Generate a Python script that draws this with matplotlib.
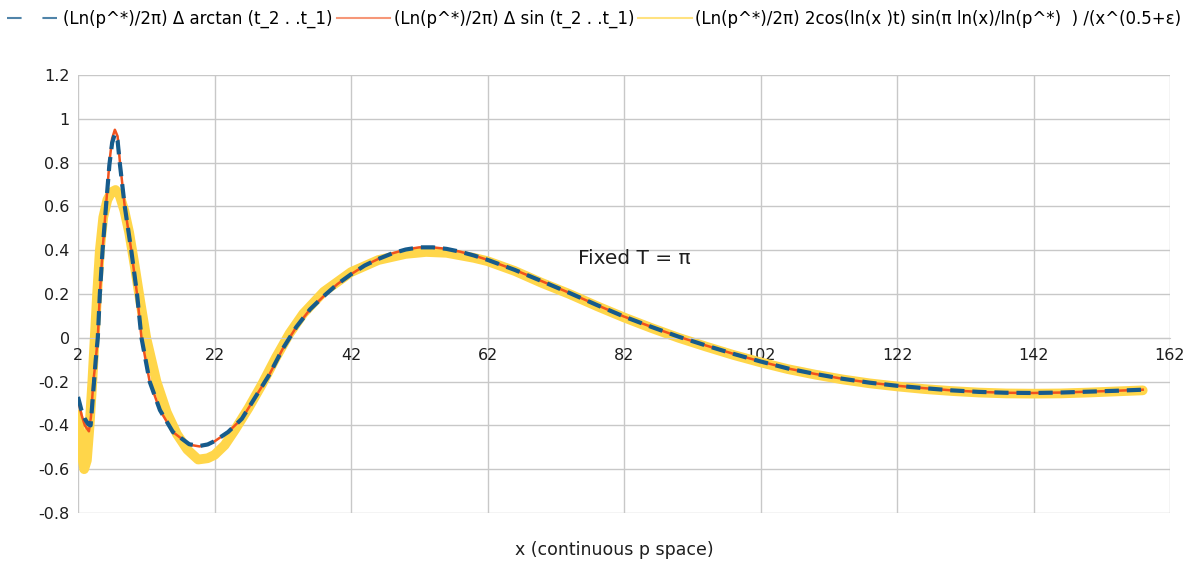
import numpy as np
import matplotlib.pyplot as plt
from matplotlib.lines import Line2D

# values
x_arctan = [2, 2.5, 3.0, 3.5, 3.85, 4.25, 4.6, 4.9, 5.2, 5.6, 6.1, 6.6, 7.0, 7.4, 7.8, 8.15,
            8.85, 9.8, 10.65, 11.3, 12.5, 14, 15.9, 18.3, 19.8, 21, 22, 24, 26, 28, 30, 32,
            34, 36, 38, 40, 42, 44, 46, 48, 50, 52, 54, 56, 58, 60, 62, 66, 70, 74, 78, 82,
            86, 90, 94, 98, 102, 106, 110, 114, 118, 122, 126, 130, 134, 138, 142, 146, 150,
            154, 158]
y_arctan = [-0.27, -0.33, -0.37, -0.395, -0.40, -0.24, -0.10, 0.0, 0.2, 0.4, 0.6, 0.79, 0.89,
            0.93, 0.9, 0.79, 0.6, 0.4, 0.2, 0.0, -0.2, -0.33, -0.43, -0.486, -0.494, -0.487,
            -0.472, -0.43, -0.37, -0.27, -0.17, -0.05, 0.05, 0.13, 0.19, 0.245, 0.29, 0.33,
            0.36, 0.385, 0.403, 0.413, 0.413, 0.406, 0.393, 0.376, 0.356, 0.31, 0.258, 0.205,
            0.15, 0.097, 0.05, 0.005, -0.035, -0.073, -0.108, -0.14, -0.165, -0.187, -0.205,
            -0.219, -0.23, -0.24, -0.247, -0.251, -0.252, -0.25, -0.246, -0.242, -0.237]

x_sin = [2, 2.5, 3.0, 3.6, 3.9, 4.25, 4.6, 4.9, 5.2, 5.6, 6.1, 6.6, 7.0, 7.4, 7.8, 8.15,
         8.85, 9.8, 10.65, 11.3, 12.5, 14, 15.9, 18.3, 19.8, 21, 22, 24, 26, 28, 30, 32,
         34, 36, 38, 40, 42, 44, 46, 48, 50, 52, 54, 56, 58, 60, 62, 66, 70, 74, 78, 82,
         86, 90, 94, 98, 102, 106, 110, 114, 118, 122, 126, 130, 134, 138, 142, 146, 150,
         154, 158]
y_sin = [-0.28, -0.35, -0.40, -0.427, -0.36, -0.2, -0.1, 0.0, 0.2, 0.4, 0.6, 0.8, 0.91,
         0.95, 0.92, 0.8, 0.6, 0.4, 0.2, 0.0, -0.2, -0.33, -0.43, -0.488, -0.496, -0.488,
         -0.473, -0.43, -0.37, -0.27, -0.17, -0.05, 0.05, 0.13, 0.19, 0.245, 0.29, 0.33,
         0.36, 0.385, 0.403, 0.413, 0.413, 0.406, 0.393, 0.376, 0.356, 0.31, 0.258, 0.205,
         0.15, 0.097, 0.05, 0.005, -0.035, -0.073, -0.108, -0.14, -0.165, -0.187, -0.205,
         -0.219, -0.23, -0.24, -0.247, -0.251, -0.252, -0.25, -0.246, -0.242, -0.237]

x_cos = [2, 2.5, 2.9, 3.3, 3.7, 4.1, 4.45, 4.8, 5.2, 5.7, 6.3, 6.9, 7.5, 8.1, 8.8, 9.5,
         10.3, 11.1, 12.0, 13.5, 15, 16.5, 18, 19.6, 21, 22, 23.5, 25, 27, 29, 31, 33, 35,
         38, 42, 46, 50, 53, 56, 60, 62, 66, 70, 74, 78, 82, 86, 90, 94, 98, 102, 106, 110,
         114, 118, 122, 126, 130, 134, 138, 142, 146, 150, 154, 158]
y_cos = [-0.35, -0.52, -0.60, -0.56, -0.40, -0.20, 0.0, 0.2, 0.4, 0.55, 0.63, 0.665, 0.675,
         0.65, 0.58, 0.48, 0.33, 0.17, 0.0, -0.2, -0.34, -0.44, -0.51, -0.556, -0.55,
         -0.535, -0.49, -0.42, -0.32, -0.21, -0.09, 0.02, 0.11, 0.21, 0.30, 0.355, 0.383,
         0.392, 0.388, 0.365, 0.35, 0.305, 0.25, 0.20, 0.145, 0.093, 0.045, 0.0, -0.04,
         -0.078, -0.112, -0.143, -0.168, -0.19, -0.208, -0.222, -0.234, -0.243, -0.25,
         -0.254, -0.255, -0.254, -0.25, -0.245, -0.24]

labels = ["(Ln(p^*)/2π) Δ arctan (t_2 . .t_1)",
          "(Ln(p^*)/2π) Δ sin (t_2 . .t_1)",
          "(Ln(p^*)/2π) 2cos(ln(x )t) sin(π ln(x)/ln(p^*)  ) /(x^(0.5+ε)"]
x_ticks = [2, 22, 42, 62, 82, 102, 122, 142, 162]
y_ticks = [-0.8, -0.6, -0.4, -0.2, 0, 0.2, 0.4, 0.6, 0.8, 1, 1.2]
y_ticklabels = ["-0.8", "-0.6", "-0.4", "-0.2", "0", "0.2", "0.4", "0.6", "0.8", "1", "1.2"]

plt.rcParams['font.family'] = ['DejaVu Sans']

c_blue = "#165b8c"
c_orange = "#f0521e"
c_yellow = "#ffd64a"
c_text = "#1e1e1e"

dpi = 100
fig = plt.figure(dpi=dpi, figsize=(1188 / dpi, 563 / dpi))
ax = fig.add_axes([78 / 1188, 50 / 563, (1170 - 78) / 1188, (513 - 75) / 563])

ax.plot(x_cos, y_cos, color=c_yellow, lw=7, solid_capstyle='round', zorder=2)
ax.plot(x_sin, y_sin, color=c_orange, lw=1.8, zorder=3)
ax.plot(x_arctan, y_arctan, color=c_blue, lw=3, dashes=(3.4, 1.9), zorder=4)

ax.set_xlim(2, 162)
ax.set_ylim(-0.8, 1.2)
ax.set_xticks(x_ticks)
ax.set_yticks(y_ticks)
ax.set_yticklabels(y_ticklabels)
ax.grid(True, color="#c8c8c8", lw=1)
ax.set_axisbelow(True)
for s in ["left", "right", "top"]:
    ax.spines[s].set_visible(False)
ax.spines["bottom"].set_position(("data", 0))
ax.spines["bottom"].set_color("#c8c8c8")
ax.tick_params(length=0, labelsize=11.5, colors=c_text)
ax.tick_params(axis="x", pad=7)
ax.tick_params(axis="y", pad=6)

ax.text(75.3, 0.36, "Fixed T = π", fontsize=14.5, va="center", ha="left", color=c_text)
fig.text(614 / 1188, 1 - 550 / 563, "x (continuous p space)", fontsize=12.5,
         ha="center", va="center", color=c_text)

handles = [Line2D([], [], color=c_blue, lw=1.5, dashes=(7, 10), alpha=0.75),
           Line2D([], [], color=c_orange, lw=1.5, alpha=0.6),
           Line2D([], [], color=c_yellow, lw=1.5, alpha=0.7)]
fig.legend(handles, labels, loc="upper center", bbox_to_anchor=(0.5, 1.0), ncol=3,
           frameon=False, fontsize=12, handlelength=3.2, handletextpad=0.2,
           columnspacing=0.25, borderaxespad=0.2)

plt.savefig("out.png", dpi=dpi)
